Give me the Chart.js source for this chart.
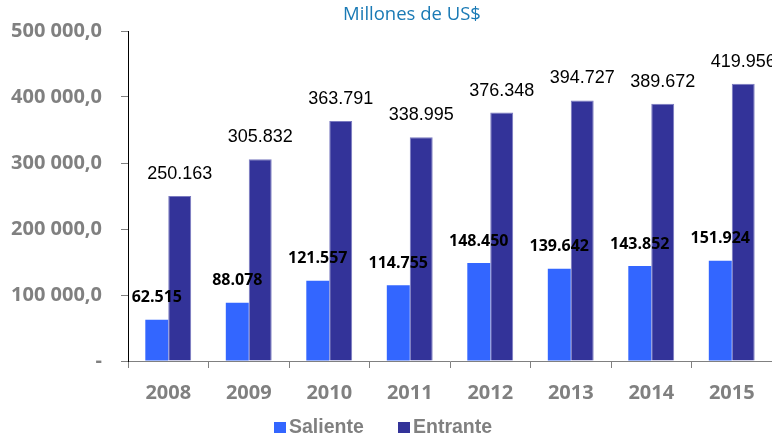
<!DOCTYPE html>
<html>
<head>
<meta charset="utf-8">
<script src="https://cdn.jsdelivr.net/npm/chart.js@4.4.0/dist/chart.umd.min.js"></script>
<style>
  html, body { margin: 0; padding: 0; background: #fff; }
  #wrap { width: 772px; height: 437px; }
</style>
</head>
<body>
<div id="wrap"><canvas id="myChart" width="772" height="437"></canvas></div>
<script>
// data
const years = ['2008', '2009', '2010', '2011', '2012', '2013', '2014', '2015'];
const saliente = [62515, 88078, 121557, 114755, 148450, 139642, 143852, 151924];
const entrante = [250163, 305832, 363791, 338995, 376348, 394727, 389672, 419956];
const yTicks = [0, 100000, 200000, 300000, 400000, 500000];

const gray = '#808080';

function dots(v) {
  return String(v).replace(/\B(?=(\d{3})+(?!\d))/g, '.');
}

// title sits a bit left of centre in the original
const titlePlugin = {
  id: 'titleText',
  afterDraw(chart) {
    const c = chart.ctx;
    c.save();
    c.font = '18.5px "Open Sans"';
    c.fillStyle = '#1a7ab5';
    c.textAlign = 'center';
    c.textBaseline = 'middle';
    c.fillText('Millones de US$', 412, 15);
    c.restore();
  }
};

// value labels above bars
const labelPlugin = {
  id: 'barLabels',
  afterDatasetsDraw(chart) {
    const c = chart.ctx;
    c.save();
    c.textAlign = 'center';
    c.textBaseline = 'middle';
    c.fillStyle = '#000';
    chart.data.datasets.forEach((ds, i) => {
      const meta = chart.getDatasetMeta(i);
      c.font = i === 0 ? 'bold 16px "Open Sans"' : '18px "Liberation Sans"';
      meta.data.forEach((bar, j) => {
        c.fillText(dots(ds.data[j]), bar.x, bar.y - 22);
      });
    });
    c.restore();
  }
};

// legend drawn by hand so it lands where the original has it
const legendPlugin = {
  id: 'handLegend',
  afterDraw(chart) {
    const c = chart.ctx;
    const xs = [274, 398];
    c.save();
    c.font = 'bold 19.5px "Liberation Sans"';
    c.textBaseline = 'middle';
    c.textAlign = 'left';
    chart.data.datasets.forEach((ds, i) => {
      c.fillStyle = ds.backgroundColor;
      c.fillRect(xs[i], 422, 12, 11);
      c.fillStyle = gray;
      c.fillText(ds.label, xs[i] + 15, 428);
    });
    c.restore();
  }
};

new Chart(document.getElementById('myChart'), {
  type: 'bar',
  data: {
    labels: years,
    datasets: [
      { label: 'Saliente', data: saliente, backgroundColor: '#3366ff', borderWidth: 0 },
      { label: 'Entrante', data: entrante, backgroundColor: '#333399', borderColor: '#7a7ac0', borderWidth: 1 }
    ]
  },
  options: {
    responsive: false,
    animation: false,
    events: [],
    layout: { padding: { top: 24, right: 0, left: 0, bottom: 26 } },
    datasets: { bar: { categoryPercentage: 0.57, barPercentage: 1 } },
    plugins: {
      legend: { display: false },
      tooltip: { enabled: false },
      title: { display: false }
    },
    scales: {
      x: {
        grid: { drawOnChartArea: false, drawTicks: true, tickLength: 7, color: gray },
        border: { color: gray },
        ticks: { color: gray, padding: 13, font: { family: '"Open Sans"', size: 20, weight: 'bold' } },
        afterFit(scale) { scale.height = 50; }
      },
      y: {
        min: 0, max: 500000,
        afterBuildTicks(scale) { scale.ticks = yTicks.map(v => ({ value: v })); },
        grid: { drawOnChartArea: false, drawTicks: true, tickLength: 7, color: gray },
        border: { color: '#000' },
        ticks: {
          color: gray, padding: 19,
          font: { family: '"Open Sans"', size: 20, weight: 'bold' },
          callback(v) {
            if (v === 0) return '-';
            return String(v).replace(/\B(?=(\d{3})+(?!\d))/g, ' ') + ',0';
          }
        },
        afterFit(scale) { scale.width = 128; }
      }
    }
  },
  plugins: [titlePlugin, labelPlugin, legendPlugin]
});
</script>
</body>
</html>
